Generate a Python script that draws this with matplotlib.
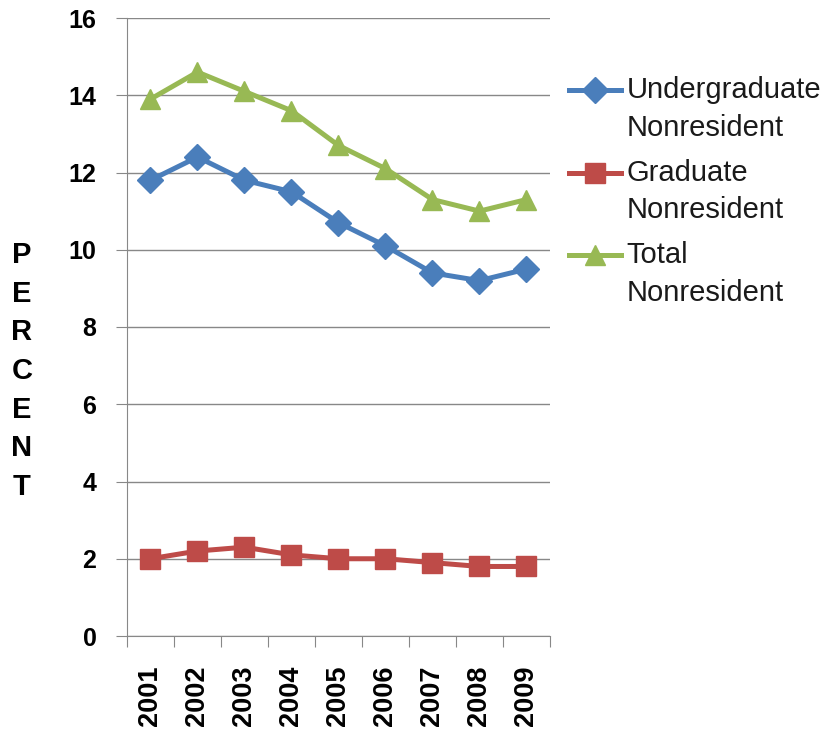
import matplotlib
matplotlib.use("Agg")
import matplotlib.pyplot as plt
from matplotlib.lines import Line2D
from matplotlib.legend_handler import HandlerLine2D

years = ["2001", "2002", "2003", "2004", "2005", "2006", "2007", "2008", "2009"]
undergrad = [11.8, 12.4, 11.8, 11.5, 10.7, 10.1, 9.4, 9.2, 9.5]
graduate = [2.0, 2.2, 2.3, 2.1, 2.0, 2.0, 1.9, 1.8, 1.8]
total = [13.9, 14.6, 14.1, 13.6, 12.7, 12.1, 11.3, 11.0, 11.3]

plt.rcParams['font.family'] = ['Liberation Sans', 'DejaVu Sans']


# legend handle sits next to the first line of a two-line label
class TopLine(HandlerLine2D):
    def __init__(self, shift, **kw):
        super().__init__(**kw)
        self.shift = shift

    def create_artists(self, legend, orig_handle, xdescent, ydescent, width, height, fontsize, trans):
        return super().create_artists(legend, orig_handle, xdescent, ydescent - 2 * self.shift,
                                      width, height, fontsize, trans)


fig = plt.figure(figsize=(8.29, 7.34), dpi=100)
ax = fig.add_axes([127/829, 98/734, 423/829, 618/734])

x = list(range(len(years)))
ax.plot(x, undergrad, color='#4a7ebb', lw=3.6, marker='D', ms=13, label='Undergraduate\nNonresident')
ax.plot(x, graduate, color='#be4b48', lw=3.6, marker='s', ms=14, label='Graduate\nNonresident')
ax.plot(x, total, color='#98b954', lw=3.6, marker='^', ms=15, label='Total\nNonresident')

ax.set_xlim(-0.5, len(years) - 0.5)
ax.set_ylim(0, 16)
ax.set_yticks(range(0, 17, 2))
ax.set_xticks([i - 0.5 for i in range(len(years) + 1)], minor=False)
ax.set_xticklabels([])
ax.set_xticks(x, minor=True)
ax.set_xticklabels(years, minor=True, rotation=90, fontsize=19.5, fontweight='bold', va='top')
ax.tick_params(axis='x', which='minor', length=0, pad=21)
ax.tick_params(axis='x', which='major', length=8, color='#888888', direction='out')
ax.tick_params(axis='y', length=8, color='#888888', labelsize=18, pad=14)
for lab in ax.get_yticklabels():
    lab.set_fontweight('bold')

ax.grid(axis='y', color='#888888', lw=1)
ax.set_axisbelow(True)
for s in ['top', 'right']:
    ax.spines[s].set_visible(False)
for s in ['left', 'bottom']:
    ax.spines[s].set_color('#888888')

fig.text(22/829, 1 - 371/734, "P\nE\nR\nC\nE\nN\nT", ha='center', va='center',
         fontsize=21, fontweight='bold', linespacing=1.48)

leg = ax.legend(loc='upper left', bbox_to_anchor=(569/829, 1 - 76/734), bbox_transform=fig.transFigure,
                frameon=False, fontsize=21, handlelength=1.78, handletextpad=0.2, labelspacing=0.57,
                borderpad=0, borderaxespad=0, handler_map={Line2D: TopLine(14)})
for t in leg.get_texts():
    t.set_linespacing(1.45)
    t.set_color('#1a1a1a')

fig.savefig("out.png", dpi=100)
